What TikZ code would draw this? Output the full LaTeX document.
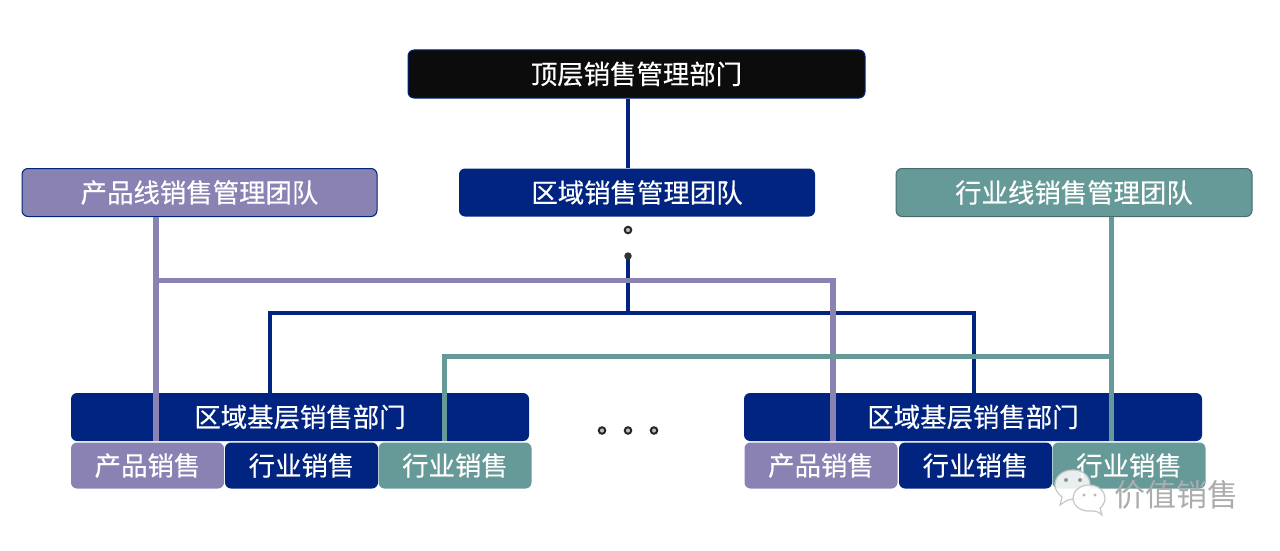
\documentclass[tikz,border=0pt]{standalone}
\usepackage{fontspec}
\setmainfont[FakeBold=0.35]{Noto Sans CJK SC}
\newfontfamily\brandfont{Noto Sans CJK SC}
\definecolor{navyteam}{HTML}{00247F}
\definecolor{purpleteam}{HTML}{8A82B2}
\definecolor{tealteam}{HTML}{669A98}
\definecolor{blackteam}{HTML}{0C0C0C}
\tikzset{
	teambox/.style={rounded corners=6pt,text=white,inner sep=0pt,font=\fontsize{26.4}{27}\selectfont,minimum height=48pt},
	subbox/.style={teambox,minimum width=153pt,minimum height=46pt},
	navyline/.style={line width=4.5pt,color=navyteam},
	purpleline/.style={line width=5.5pt,color=purpleteam},
	tealline/.style={line width=5pt,color=tealteam},
	ringdot/.style={circle,draw=black!85,fill=gray!50,line width=2pt,minimum size=6.5pt,inner sep=0pt},
	wechatbubble/.style={draw=gray!45,line width=1.2pt}
}
\begin{document}
\begin{tikzpicture}[line cap=butt,line join=miter,x=1pt,y=-1pt]
	\useasboundingbox (0,0) rectangle (1280,551);
	%% junction points of the three lines
	\coordinate (trunk) at (628,313);
	\coordinate (trunkend) at (628,256);
	\coordinate (purplebus) at (156,280.5);
	\coordinate (purpledrop) at (833,280.5);
	\coordinate (tealbus) at (1111,356);
	\coordinate (tealdrop) at (444,356);
	\coordinate (navyleft) at (270,313);
	\coordinate (navyright) at (974,313);
	%% top row
	\node[teambox,minimum width=457pt,fill=blackteam,draw=navyteam,line width=1pt] (toplevel) at (636.5,74) {顶层销售管理部门};
	\node[teambox,minimum width=356pt,fill=navyteam] (regionteam) at (637,192.5) {区域销售管理团队};
	\node[teambox,minimum width=355pt,fill=purpleteam,draw=navyteam,line width=1pt] (productteam) at (199.5,192.5) {产品线销售管理团队};
	\node[teambox,minimum width=356pt,fill=tealteam,draw=tealteam!70!black,line width=1pt] (industryteam) at (1074,192.5) {行业线销售管理团队};
	%% base departments
	\node[teambox,minimum width=458pt,fill=navyteam] (baseleft) at (300,417) {区域基层销售部门};
	\node[teambox,minimum width=458pt,fill=navyteam] (baseright) at (973,417) {区域基层销售部门};
	%% lines
	\draw[navyline] (toplevel.south -| trunk) -- (regionteam.north -| trunk);
	\draw[navyline] (trunkend) -- (trunk);
	\draw[navyline] (baseleft.north -| navyleft) -- (navyleft) -- (navyright) -- (baseright.north -| navyright);
	\draw[purpleline] (purplebus) -- (purpledrop) -- (baseright.south -| purpledrop);
	\draw[purpleline] (productteam.south -| purplebus) -- (baseleft.south -| purplebus);
	\draw[tealline] (industryteam.south -| tealbus) -- (baseright.south -| tealbus);
	\draw[tealline] (tealbus) -- (tealdrop) -- (baseleft.south -| tealdrop);
	%% sales groups
	\node[subbox,fill=purpleteam] (sellleftA) at (147.5,465.5) {产品销售};
	\node[subbox,fill=navyteam] (sellleftB) at (301.5,465.5) {行业销售};
	\node[subbox,fill=tealteam] (sellleftC) at (455,465.5) {行业销售};
	\node[subbox,fill=purpleteam] (sellrightA) at (821,465.5) {产品销售};
	\node[subbox,fill=navyteam] (sellrightB) at (975.5,465.5) {行业销售};
	\node[subbox,fill=tealteam] (sellrightC) at (1129,465.5) {行业销售};
	%% dots
	\node[ringdot] (dotA) at (628,230) {};
	\node[circle,fill=black!80,minimum size=7.5pt,inner sep=0pt] (dotB) at (trunkend) {};
	\foreach \dotx/\dotname in {602/rowA,628/rowB,654/rowC}
		\node[ringdot] (\dotname) at (\dotx,430.5) {};
	%% small logo and name at the lower right
	\draw[wechatbubble,fill=white,fill opacity=0.85] (1060,505) -- (1062,497) .. controls (1057,493) and (1055,489) .. (1055,485) .. controls (1055,476) and (1063,470) .. (1073,470) .. controls (1083,470) and (1090,476) .. (1090,485) .. controls (1090,494) and (1082,499) .. (1073,499) .. controls (1069,499) and (1067,500) .. (1060,505) -- cycle;
	\draw[wechatbubble,fill=white,fill opacity=0.9] (1102,515) .. controls (1099,512) and (1096,511) .. (1092,511) .. controls (1081,512) and (1073,506) .. (1073,498) .. controls (1073,491) and (1080,485) .. (1089,485) .. controls (1098,485) and (1105,491) .. (1105,498) .. controls (1105,503) and (1102,507) .. (1100,508) -- cycle;
	\foreach \eyex/\eyey in {1066/480,1080/480}
		\fill[gray!85] (\eyex,\eyey) circle (2pt);
	\foreach \eyex/\eyey in {1084/495,1095/495}
		\fill[gray!55] (\eyex,\eyey) circle (1.6pt);
	\node[text=gray!65,inner sep=0pt,font=\brandfont\fontsize{31}{32}\selectfont] (brandname) at (1176,495) {价值销售};
\end{tikzpicture}
\end{document}
